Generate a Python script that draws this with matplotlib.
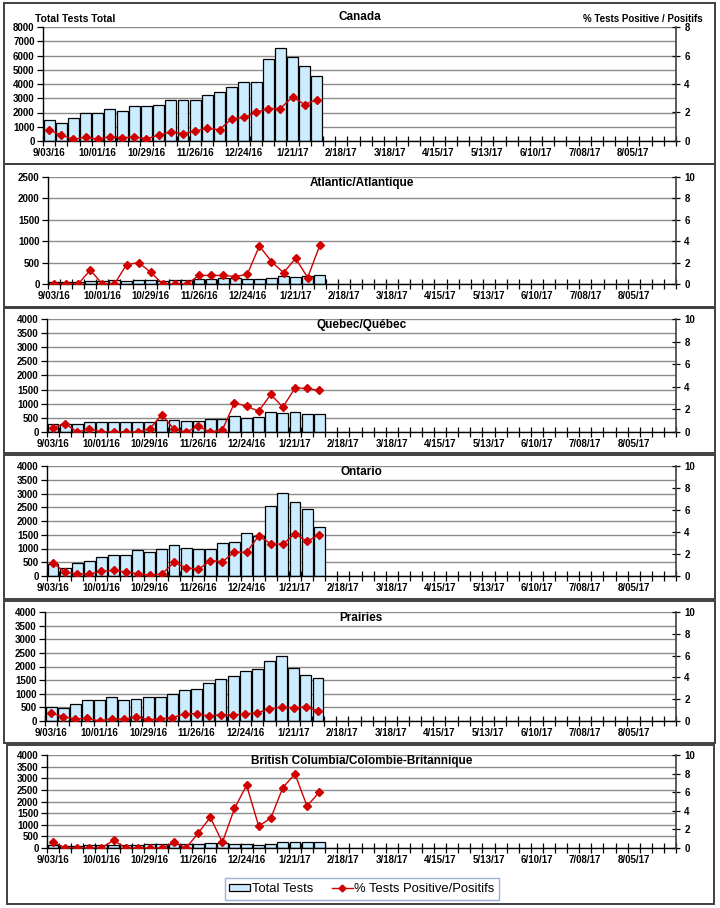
import matplotlib
matplotlib.use("Agg")
import matplotlib.pyplot as plt
from matplotlib.patches import Rectangle
from matplotlib.lines import Line2D

plt.rcParams['font.family'] = ['Liberation Sans', 'DejaVu Sans']

# semaines (52 catégories)
n_weeks = 52
tick_pos = list(range(0, 52, 4))
tick_labels = ['9/03/16', '10/01/16', '10/29/16', '11/26/16', '12/24/16', '1/21/17',
               '2/18/17', '3/18/17', '4/15/17', '5/13/17', '6/10/17', '7/08/17', '8/05/17']

# données
canada_tests = [1500, 1250, 1600, 1950, 2000, 2250, 2100, 2450, 2450, 2550, 2850, 2850,
                2850, 3250, 3450, 3800, 4150, 4150, 5750, 6550, 5900, 5250, 4550]
canada_pos = [0.77, 0.42, 0.12, 0.26, 0.14, 0.30, 0.23, 0.28, 0.16, 0.40, 0.65, 0.51,
              0.70, 0.89, 0.79, 1.56, 1.65, 2.00, 2.28, 2.28, 3.10, 2.56, 2.91]

atl_tests = [50, 40, 50, 70, 70, 90, 60, 90, 90, 80, 100, 100,
             110, 110, 130, 130, 110, 110, 140, 180, 160, 180, 220]
atl_pos = [0.0, 0.0, 0.0, 1.3, 0.0, 0.0, 1.8, 2.0, 1.1, 0.0, 0.0, 0.0,
           0.8, 0.8, 0.8, 0.7, 0.9, 3.55, 2.1, 1.05, 2.4, 0.6, 3.6]

qc_tests = [270, 300, 300, 370, 340, 340, 340, 370, 370, 410, 440, 400,
            400, 470, 470, 560, 480, 530, 720, 660, 720, 650, 650]
qc_pos = [0.39, 0.74, 0.0, 0.27, 0.0, 0.0, 0.0, 0.0, 0.30, 1.54, 0.24, 0.0,
          0.50, 0.0, 0.20, 2.58, 2.28, 1.84, 3.32, 2.20, 3.89, 3.86, 3.68]

on_tests = [420, 300, 480, 560, 690, 780, 780, 940, 880, 1000, 1130, 1030,
            970, 1000, 1190, 1250, 1580, 1450, 2530, 3030, 2680, 2420, 1800]
on_pos = [1.18, 0.33, 0.21, 0.18, 0.42, 0.52, 0.36, 0.21, 0.09, 0.18, 1.24, 0.76,
          0.60, 1.39, 1.30, 2.18, 2.15, 3.64, 2.94, 2.88, 3.85, 3.15, 3.76]

pr_tests = [530, 480, 630, 760, 760, 890, 760, 820, 890, 890, 980, 1120,
            1180, 1410, 1530, 1660, 1850, 1920, 2200, 2400, 1940, 1690, 1560]
pr_pos = [0.74, 0.40, 0.18, 0.25, 0.0, 0.22, 0.15, 0.37, 0.12, 0.22, 0.31, 0.65,
          0.68, 0.46, 0.58, 0.55, 0.65, 0.74, 1.14, 1.26, 1.23, 1.29, 0.92]

bc_tests = [130, 100, 100, 110, 110, 130, 110, 140, 170, 170, 190, 190,
            190, 230, 200, 180, 180, 150, 190, 250, 260, 260, 260]
bc_pos = [0.64, 0.0, 0.0, 0.0, 0.0, 0.82, 0.0, 0.0, 0.0, 0.0, 0.60, 0.0,
          1.60, 3.30, 0.60, 4.25, 6.75, 2.36, 3.20, 6.50, 7.96, 4.50, 6.00]

W, H = 720, 908
BAR_COLOR = '#CCECFF'
LINE_COLOR = '#D00000'

fig = plt.figure(figsize=(W / 100, H / 100), dpi=100)


def px_rect(left, top, right, bottom):
    return [left / W, 1 - bottom / H, (right - left) / W, (bottom - top) / H]


def draw_panel(box, title, tests, pos, ymax, ystep, rmax):
    ax = fig.add_axes(px_rect(*box))
    x = list(range(len(tests)))
    ax.bar(x, tests, width=0.9, color=BAR_COLOR, edgecolor='black', linewidth=0.9, zorder=2)
    ax.set_xlim(-0.5, n_weeks - 0.5)
    ax.set_ylim(0, ymax)
    ax.set_yticks(range(0, ymax + 1, ystep))
    ax.yaxis.grid(True, color='#8C8C8C', linewidth=1.0)
    ax.set_axisbelow(True)
    ax.set_xticks(tick_pos)
    ax.set_xticklabels(tick_labels)
    ax.set_xticks([i - 0.5 for i in range(n_weeks + 1)], minor=True)
    ax.tick_params(axis='x', which='major', length=0, pad=5, labelsize=7)
    ax.tick_params(axis='x', which='minor', direction='inout', length=7, width=0.9)
    ax.tick_params(axis='y', direction='out', length=4, width=0.9, labelsize=7, pad=2)
    for lab in ax.get_xticklabels() + ax.get_yticklabels():
        lab.set_fontweight('bold')
    ax.spines['top'].set_visible(False)
    ax.spines['right'].set_visible(False)
    ax.spines['left'].set_linewidth(1.0)
    ax.spines['bottom'].set_linewidth(1.0)

    ax2 = ax.twinx()
    ax2.plot(x, pos, color=LINE_COLOR, linewidth=1.0, marker='D', markersize=3.8,
             markeredgecolor=LINE_COLOR, zorder=3)
    ax2.set_ylim(0, rmax)
    ax2.set_yticks(range(0, rmax + 1, 2))
    ax2.tick_params(axis='y', direction='inout', length=6, width=0.9, labelsize=7, pad=3)
    for lab in ax2.get_yticklabels():
        lab.set_fontweight('bold')
    for s in ['top', 'left', 'bottom']:
        ax2.spines[s].set_visible(False)
    ax2.spines['right'].set_color('#404040')
    ax2.spines['right'].set_linewidth(1.2)

    if title is not None:
        ax.text(0.5, 1.0, title, transform=ax.transAxes, ha='center', va='top',
                fontsize=8.5, fontweight='bold')
    return ax


# cadres
frames = [(4, 3, 715, 164), (4, 164, 715, 307), (4, 308, 715, 453),
          (4, 455, 715, 599), (4, 601, 715, 743), (7, 745, 714, 904)]
for l, t, r, b in frames:
    fig.add_artist(Rectangle((l / W, 1 - b / H), (r - l) / W, (b - t) / H,
                             transform=fig.transFigure, fill=False,
                             edgecolor='#404040', linewidth=1.4))

draw_panel((43, 27, 676, 141), None, canada_tests, canada_pos, 8000, 1000, 8)
fig.text(360 / W, 1 - 17 / H, 'Canada', ha='center', va='center', fontsize=8.5, fontweight='bold')
fig.text(35 / W, 1 - 19 / H, 'Total Tests Total', ha='left', va='center', fontsize=7.5, fontweight='bold')
fig.text(703 / W, 1 - 19 / H, '% Tests Positive / Positifs', ha='right', va='center', fontsize=7, fontweight='bold')

draw_panel((48, 177, 676, 284), 'Atlantic/Atlantique', atl_tests, atl_pos, 2500, 500, 10)
draw_panel((47, 319, 676, 432), 'Quebec/Québec', qc_tests, qc_pos, 4000, 500, 10)
draw_panel((47, 466, 676, 576), 'Ontario', on_tests, on_pos, 4000, 500, 10)
draw_panel((45, 612, 676, 721), 'Prairies', pr_tests, pr_pos, 4000, 500, 10)
draw_panel((47, 755, 676, 848), 'British Columbia/Colombie-Britannique', bc_tests, bc_pos, 4000, 500, 10)

handles = [Rectangle((0, 0), 1, 1, facecolor=BAR_COLOR, edgecolor='black', linewidth=0.9),
           Line2D([], [], color=LINE_COLOR, linewidth=1.0, marker='D', markersize=3.5)]
leg = fig.legend(handles, ['Total Tests', '% Tests Positive/Positifs'], loc='center',
                 bbox_to_anchor=(362 / W, 1 - 889 / H), ncol=2, frameon=True, fancybox=False,
                 fontsize=9.4, handlelength=1.6, handleheight=0.5, columnspacing=1.4,
                 borderpad=0.35, handletextpad=0.15, borderaxespad=0.0)
leg.get_frame().set_edgecolor('#7F9FCF')
leg.get_frame().set_linewidth(1.0)

fig.savefig('out.png', dpi=100)
